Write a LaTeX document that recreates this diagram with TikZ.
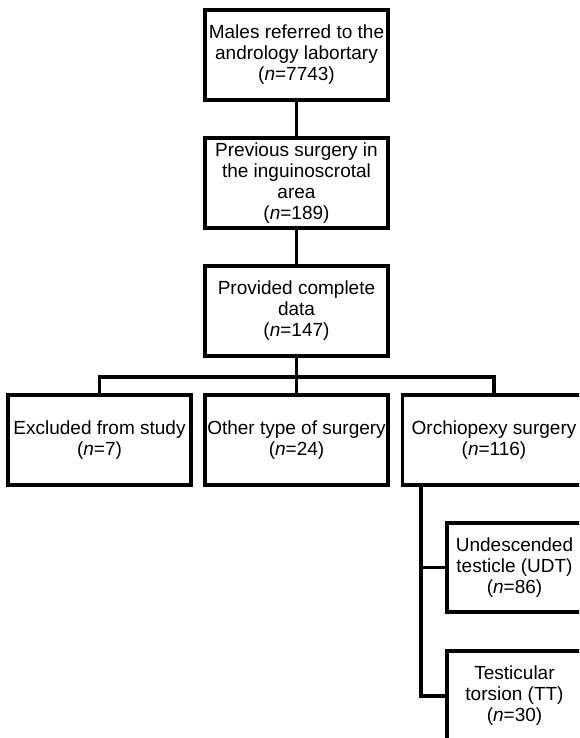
\documentclass[tikz,border=0pt]{standalone}
\usepackage{fontspec}
\setmainfont{Liberation Sans}
\usetikzlibrary{positioning}
\tikzset{
  box/.style={draw=black, line width=3.2pt, rectangle, fill=white, inner sep=0pt,
    minimum width=183pt, minimum height=90pt, align=center,
    font=\fontsize{19}{21}\selectfont},
  conn/.style={draw=black, line width=3.2pt}
}
\begin{document}
\begin{tikzpicture}[x=1pt,y=-1pt]
\useasboundingbox (0,0) rectangle (579,738);
\clip (0,0) rectangle (579,738);
\fill[white] (0,0) rectangle (579,738);
\node[box] (b1) at (296.5,55) {Males referred to the\\andrology labortary\\(\textit{n}=7743)};
\node[box] (b2) at (296.5,183) {Previous surgery in\\the inguinoscrotal\\area\\(\textit{n}=189)};
\node[box] (b3) at (296.5,311) {Provided complete\\data\\(\textit{n}=147)};
\node[box] (bA) at (99.5,440) {Excluded from study\\(\textit{n}=7)};
\node[box] (bB) at (296.5,440) {Other type of surgery\\(\textit{n}=24)};
\node[box] (bC) at (494,440) {Orchiopexy surgery\\(\textit{n}=116)};
\node[box, minimum width=135pt, minimum height=89pt] (udt) at (514.5,567.5) {Undescended\\testicle (UDT)\\(\textit{n}=86)};
\node[box, minimum width=135pt, minimum height=90pt] (tt) at (514.5,696) {Testicular\\torsion (TT)\\(\textit{n}=30)};
\coordinate (j) at (296.5,377);
\coordinate (v) at (421,484);
\draw[conn] (b1) -- (b2);
\draw[conn] (b2) -- (b3);
\draw[conn] (b3) -- (bB);
\draw[conn] (bA.north) |- (j) -| (bC.north);
\draw[conn] (v) |- (udt.west);
\draw[conn] (v) |- (tt.west);
\end{tikzpicture}
\end{document}
